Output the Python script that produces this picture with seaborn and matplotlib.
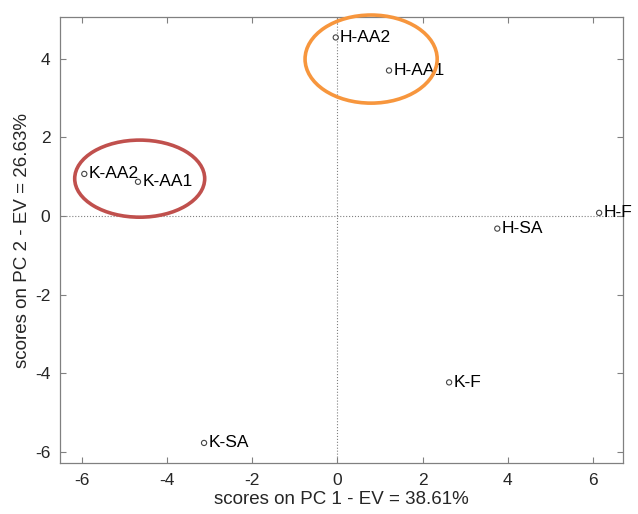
import matplotlib
matplotlib.use("Agg")
import matplotlib.pyplot as plt
import seaborn as sns
import pandas as pd
from matplotlib.patches import Ellipse

# PCA scores
samples = ["H-AA2", "H-AA1", "K-AA2", "K-AA1", "H-F", "H-SA", "K-F", "K-SA"]
pc1 = [-0.04, 1.21, -5.94, -4.68, 6.14, 3.75, 2.62, -3.13]
pc2 = [4.54, 3.70, 1.07, 0.87, 0.08, -0.32, -4.23, -5.77]

# highlight groups: (center x, center y, width, height, colour)
groups = [
    (0.79, 3.99, 3.1, 2.24, "#f7963d"),
    (-4.64, 0.95, 3.05, 1.96, "#c0504d"),
]

df = pd.DataFrame({"sample": samples, "pc1": pc1, "pc2": pc2})

sns.set_theme(style="white")
plt.rcParams["font.family"] = ["Liberation Sans", "DejaVu Sans"]
plt.rcParams["axes.unicode_minus"] = False

fig = plt.figure(figsize=(6.38, 5.14), dpi=100)
ax = fig.add_axes([60 / 638, 1 - 463 / 514, 563 / 638, 446 / 514])

ax.axvline(0, color="#808080", linestyle=":", linewidth=0.8, zorder=1)
ax.axhline(0, color="#808080", linestyle=":", linewidth=0.8, zorder=1)

sns.scatterplot(
    data=df,
    x="pc1",
    y="pc2",
    ax=ax,
    s=14,
    marker="o",
    facecolor="none",
    edgecolor="#444444",
    linewidth=0.8,
    zorder=3,
)

for _, row in df.iterrows():
    ax.annotate(
        row["sample"],
        (row["pc1"], row["pc2"]),
        xytext=(3, 0),
        textcoords="offset points",
        ha="left",
        va="center",
        fontsize=12.5,
        color="black",
        zorder=4,
    )

for cx, cy, w, h, col in groups:
    ax.add_patch(
        Ellipse((cx, cy), w, h, fill=False, edgecolor=col, linewidth=2.6,
                clip_on=False, zorder=5)
    )

ax.set_xlim(-6.51, 6.70)
ax.set_ylim(-6.28, 5.06)
ax.set_xticks([-6, -4, -2, 0, 2, 4, 6])
ax.set_yticks([-6, -4, -2, 0, 2, 4])
ax.tick_params(direction="in", length=4.5, width=0.8, color="#808080",
               top=True, right=True, labelsize=12.5, labelcolor="#262626",
               bottom=True, left=True, pad=7)
for spine in ax.spines.values():
    spine.set_color("#808080")
    spine.set_linewidth(0.9)

ax.set_xlabel("scores on PC 1 - EV = 38.61%", fontsize=13.5, color="#262626", labelpad=2)
ax.set_ylabel("scores on PC 2 - EV = 26.63%", fontsize=13.5, color="#262626", labelpad=3)

fig.savefig("out.png", dpi=100)
